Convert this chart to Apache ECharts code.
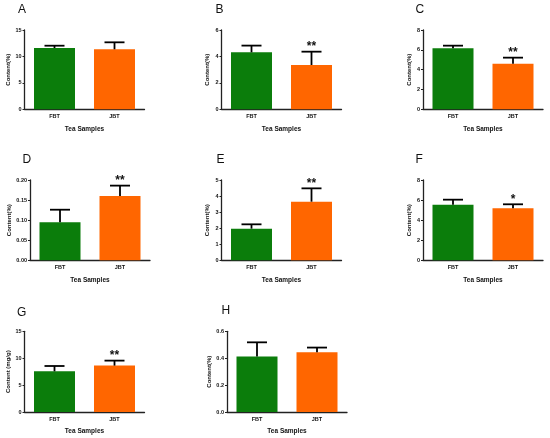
<!DOCTYPE html>
<html>
<head>
<meta charset="utf-8">
<script src="https://cdn.jsdelivr.net/npm/echarts@6/dist/echarts.min.js"></script>
<style>
html,body{margin:0;padding:0;background:#fff;}
#chart{width:550px;height:438px;}
</style>
</head>
<body>
<div id="chart"></div>
<script>
// ---- data ----
const panelLetters = ['A','B','C','D','E','F','G','H'];
const categories = ['FBT','JBT'];
const meanA = [11.6, 11.35],  upperA = [12.03, 12.67];
const meanB = [4.31, 3.35],   upperB = [4.82, 4.36];
const meanC = [6.15, 4.6],    upperC = [6.42, 5.21];
const meanD = [0.095, 0.16],  upperD = [0.126, 0.186];
const meanE = [1.97, 3.65],   upperE = [2.24, 4.48];
const meanF = [5.54, 5.18],   upperF = [6.04, 5.58];
const meanG = [7.56, 8.62],   upperG = [8.55, 9.55];
const meanH = [0.412, 0.444], upperH = [0.518, 0.479];
const sigA = ['', ''], sigB = ['', '**'], sigC = ['', '**'], sigD = ['', '**'];
const sigE = ['', '**'], sigF = ['', '*'], sigG = ['', '**'], sigH = ['', ''];
const yMax = [15, 6, 8, 0.2, 5, 8, 15, 0.6];
const yInterval = [5, 2, 2, 0.05, 1, 2, 5, 0.2];
const yDecimals = [0, 0, 0, 2, 0, 0, 0, 1];
const yNames = ['Content(%)','Content(%)','Content(%)','Content(%)','Content(%)','Content(%)','Content (mg/g)','Content(%)'];
const xName = 'Tea Samples';

const means = [meanA, meanB, meanC, meanD, meanE, meanF, meanG, meanH];
const uppers = [upperA, upperB, upperC, upperD, upperE, upperF, upperG, upperH];
const sigs = [sigA, sigB, sigC, sigD, sigE, sigF, sigG, sigH];

// ---- layout ----
const gridPos = [
  {left: 24.5, top: 30,    height: 79.3},
  {left: 221.5, top: 30,   height: 79.3},
  {left: 423,  top: 30,    height: 79.3},
  {left: 30,   top: 180,   height: 80.3},
  {left: 221.5, top: 180,  height: 80.3},
  {left: 423,  top: 180,   height: 80.3},
  {left: 24.5, top: 331.3, height: 80.7},
  {left: 227,  top: 331.3, height: 80.7}
];
const titlePos = [
  {left: 18, top: 3.5}, {left: 215.5, top: 3.5}, {left: 415.5, top: 3.5},
  {left: 22.5, top: 153.5}, {left: 216.5, top: 153.5}, {left: 415.5, top: 153.5},
  {left: 17, top: 306.5}, {left: 221.5, top: 304.5}
];
const GREEN = '#0b7d0b', ORANGE = '#ff6600';
const FONT = '"Liberation Sans", Arial, sans-serif';
const AX = '#222';

const option = {
  animation: false,
  backgroundColor: '#fff',
  title: [], grid: [], xAxis: [], yAxis: [], series: []
};

panelLetters.forEach((L, i) => {
  option.title.push({
    text: L, left: titlePos[i].left, top: titlePos[i].top, padding: 0,
    textStyle: {fontFamily: FONT, fontSize: 12, fontWeight: 'normal', color: '#111'}
  });
  option.grid.push({left: gridPos[i].left, top: gridPos[i].top, width: 120, height: gridPos[i].height, containLabel: false});
  option.xAxis.push({
    type: 'category', gridIndex: i, data: categories,
    name: xName, nameLocation: 'middle', nameGap: 16,
    nameTextStyle: {fontFamily: FONT, fontSize: 6.5, fontWeight: 'bold', color: '#111'},
    axisLine: {lineStyle: {color: AX, width: 1.3}},
    axisTick: {alignWithLabel: true, length: 2, lineStyle: {color: AX, width: 1}},
    axisLabel: {fontFamily: FONT, fontSize: 5.5, fontWeight: 'bold', color: '#111', margin: 4},
    splitLine: {show: false}
  });
  option.yAxis.push({
    type: 'value', gridIndex: i, min: 0, max: yMax[i], interval: yInterval[i],
    name: yNames[i], nameLocation: 'middle', nameGap: 11,
    nameTextStyle: {fontFamily: FONT, fontSize: 6, fontWeight: 'bold', color: '#111'},
    axisLine: {show: true, lineStyle: {color: AX, width: 1.3}},
    axisTick: {show: true, length: 2, lineStyle: {color: AX, width: 1}},
    axisLabel: {fontFamily: FONT, fontSize: 5.5, fontWeight: 'bold', color: '#111', margin: 3,
      formatter: v => v.toFixed(yDecimals[i])},
    splitLine: {show: false}
  });
  option.series.push({
    type: 'bar', xAxisIndex: i, yAxisIndex: i, barWidth: 41,
    data: means[i].map((v, j) => ({value: v, itemStyle: {color: j === 0 ? GREEN : ORANGE}})),
    z: 2
  });
  const errData = categories.map((c, j) => [j, means[i][j], uppers[i][j]]);
  option.series.push({
    type: 'custom', xAxisIndex: i, yAxisIndex: i, z: 5,
    data: errData,
    renderItem: (params, api) => {
      const x = api.value(0), m = api.value(1), u = api.value(2);
      const p0 = api.coord([x, m]);
      const p1 = api.coord([x, u]);
      const half = 10;
      const children = [
        {type: 'line', shape: {x1: p0[0], y1: p0[1], x2: p1[0], y2: p1[1]}, style: {stroke: '#000', lineWidth: 1.8}},
        {type: 'line', shape: {x1: p1[0] - half, y1: p1[1], x2: p1[0] + half, y2: p1[1]}, style: {stroke: '#000', lineWidth: 1.8}}
      ];
      const s = sigs[i][params.dataIndex];
      if (s) {
        children.push({type: 'text', style: {text: s, x: p1[0], y: p1[1] + 1, align: 'center', verticalAlign: 'bottom',
          fontFamily: FONT, fontSize: 12, fontWeight: 'bold', fill: '#111'}});
      }
      return {type: 'group', children};
    }
  });
});

const chart = echarts.init(document.getElementById('chart'), null, {renderer: 'canvas'});
chart.setOption(option);
</script>
</body>
</html>
